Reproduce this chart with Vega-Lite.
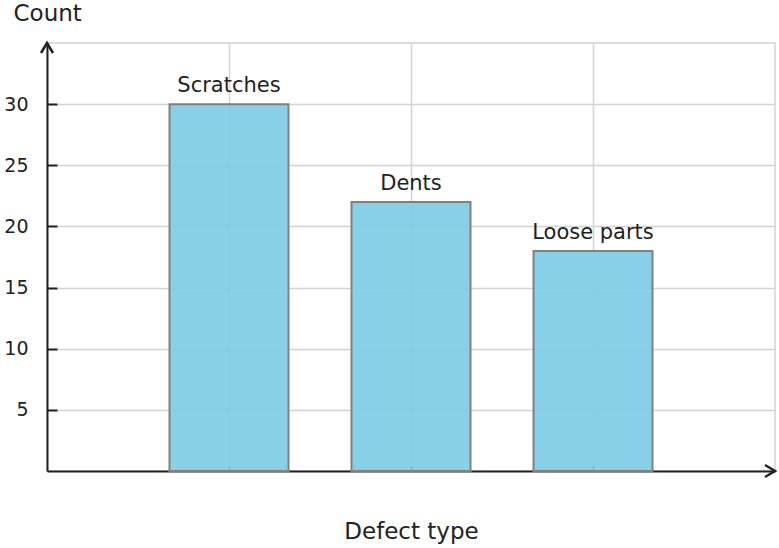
{
  "$schema": "https://vega.github.io/schema/vega-lite/v6.json",
  "width": 728,
  "height": 428,
  "autosize": {"type": "none"},
  "padding": {"left": 47, "top": 43, "right": 4, "bottom": 77},
  "config": {
    "font": "DejaVu Sans",
    "view": {"stroke": "#d3d3d3", "strokeWidth": 1.5}
  },
  "data": {
    "values": [
      {"defect": "Scratches", "pos": 1, "count": 30},
      {"defect": "Dents", "pos": 2, "count": 22},
      {"defect": "Loose parts", "pos": 3, "count": 18}
    ]
  },
  "encoding": {
    "x": {
      "field": "pos",
      "type": "quantitative",
      "scale": {"domain": [0, 4], "nice": false, "zero": false, "padding": 0},
      "axis": {
        "values": [1, 2, 3],
        "labels": false,
        "tickSize": -5,
        "tickColor": "#222222",
        "tickWidth": 2,
        "domainColor": "#222222",
        "domainWidth": 2,
        "gridColor": "#d3d3d3",
        "gridWidth": 1.5,
        "title": "Defect type",
        "titleFontSize": 23,
        "titleFontWeight": "normal",
        "titleColor": "#222222",
        "titleY": 67,
        "titleBaseline": "alphabetic"
      }
    },
    "y": {
      "field": "count",
      "type": "quantitative",
      "scale": {"domain": [0, 35], "nice": false, "padding": 0},
      "axis": {
        "values": [5, 10, 15, 20, 25, 30],
        "tickSize": -10,
        "tickWidth": 2,
        "tickColor": "#222222",
        "labelFontSize": 19,
        "labelColor": "#222222",
        "labelPadding": 29,
        "domainColor": "#222222",
        "domainWidth": 2,
        "grid": true,
        "gridColor": "#d3d3d3",
        "gridWidth": 1.5,
        "title": "Count",
        "titleAngle": 0,
        "titleX": -34,
        "titleY": -23,
        "titleAlign": "left",
        "titleBaseline": "alphabetic",
        "titleFontSize": 23,
        "titleFontWeight": "normal",
        "titleColor": "#222222"
      }
    }
  },
  "layer": [
    {
      "mark": {
        "type": "bar",
        "orient": "vertical",
        "width": 119,
        "fill": "#7ecbe6",
        "fillOpacity": 0.92,
        "stroke": "#808080",
        "strokeWidth": 2
      }
    },
    {
      "mark": {
        "type": "text",
        "dy": -12,
        "baseline": "alphabetic",
        "fontSize": 21,
        "color": "#222222"
      },
      "encoding": {"text": {"field": "defect"}}
    },
    {
      "data": {
        "values": [
          {"pos": 4, "count": 0, "dir": "x"},
          {"pos": 0, "count": 35, "dir": "y"}
        ]
      },
      "mark": {
        "type": "point",
        "filled": false,
        "stroke": "#222222",
        "strokeWidth": 2.5,
        "size": 100,
        "opacity": 1
      },
      "encoding": {
        "shape": {
          "field": "dir",
          "type": "nominal",
          "scale": {
            "domain": ["x", "y"],
            "range": ["M-2,-1.2L0,0L-2,1.2", "M-1.2,2L0,0L1.2,2"]
          },
          "legend": null
        }
      }
    }
  ]
}
